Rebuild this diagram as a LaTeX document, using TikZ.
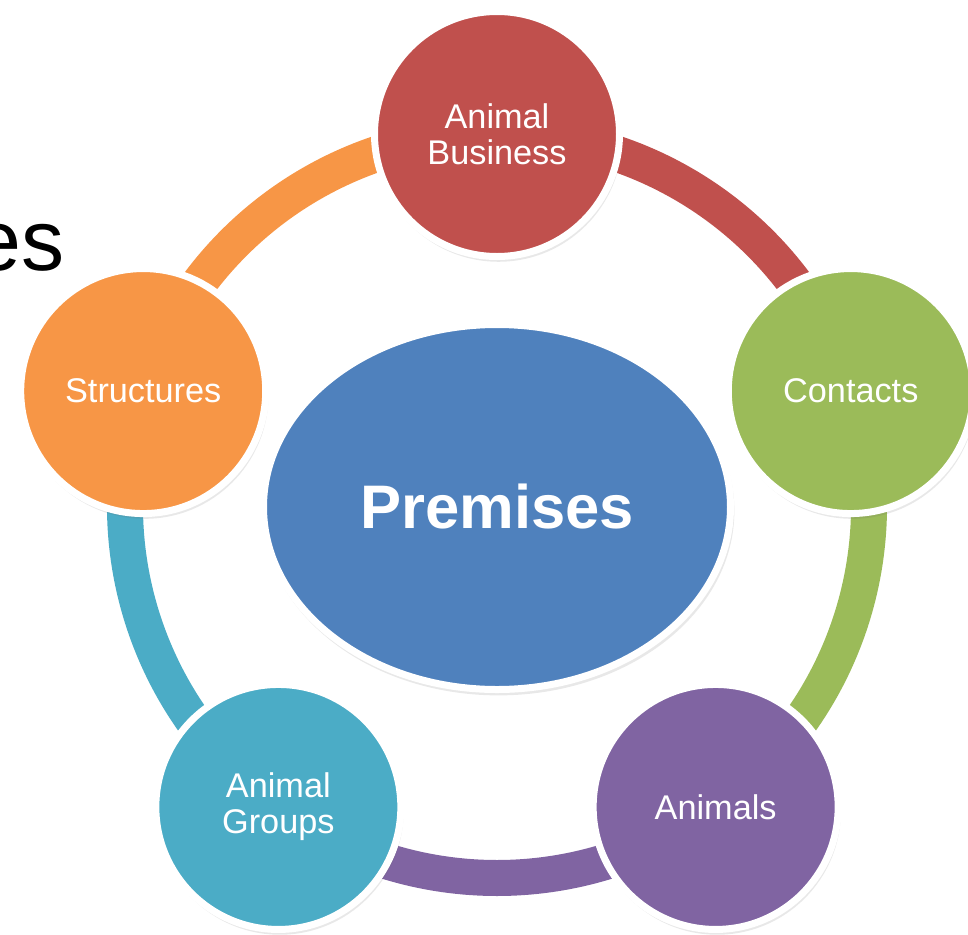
\documentclass[tikz,border=0pt]{standalone}
\usepackage{fontspec}
\setmainfont{Liberation Sans}
\usetikzlibrary{calc, shapes.geometric, shadows, backgrounds}

\definecolor{hubblue}{HTML}{4F81BD}
\definecolor{bizred}{HTML}{C0504D}
\definecolor{contactgreen}{HTML}{9BBB59}
\definecolor{animalpurple}{HTML}{8064A2}
\definecolor{groupteal}{HTML}{4BACC6}
\definecolor{structorange}{HTML}{F79646}

\pgfkeys{/tikz/.cd,
     ring radius/.initial=7.44,
     ring radius/.get=\ringradius,
     ring radius/.store in=\ringradius,
}
\tikzset{
    satellite/.style={circle, draw=white, line width=0.14cm, minimum size=4.9cm,
        inner sep=0pt, text=white, align=center,
        font=\fontsize{19.5}{20.5}\selectfont,
        drop shadow={shadow scale=1.01, shadow xshift=0.03cm, shadow yshift=-0.08cm,
            opacity=0.15, fill=black!60}},
    hub/.style={ellipse, draw=white, line width=0.14cm, fill=hubblue,
        minimum width=9.34cm, minimum height=7.3cm, inner sep=0pt, text=white,
        font=\fontsize{35}{40}\selectfont\bfseries,
        drop shadow={shadow scale=1.01, shadow xshift=0.03cm, shadow yshift=-0.08cm,
            opacity=0.15, fill=black!60}},
    ring/.style={line width=0.72cm},
}

\begin{document}
\begin{tikzpicture}

\useasboundingbox (0,0) rectangle (19.36,-18.7);

\node[anchor=base east, inner sep=0pt, font=\fontsize{49}{55}\selectfont] (title) at (1.30,-5.40) {es};

\coordinate (centre) at (9.94,-10.12);
\node[hub] (premises) at (9.94,-10.14) {Premises};

\foreach \textlabel/\circlecolor [count=\x] in {
    Animal\\Business/bizred,
    Contacts/contactgreen,
    Animals/animalpurple,
    Animal\\Groups/groupteal,
    Structures/structorange}{
    \pgfmathsetmacro\satangle{90-72*(\x-1)}
    \node[satellite, fill=\circlecolor] (sat-\x) at ($(centre)+(\satangle:\ringradius)$) {\textlabel};
    \begin{scope}[on background layer]
        \draw[ring, draw=\circlecolor] (sat-\x.center) arc[start angle=\satangle, delta angle=-72, radius=\ringradius];
    \end{scope}
}

\end{tikzpicture}
\end{document}
